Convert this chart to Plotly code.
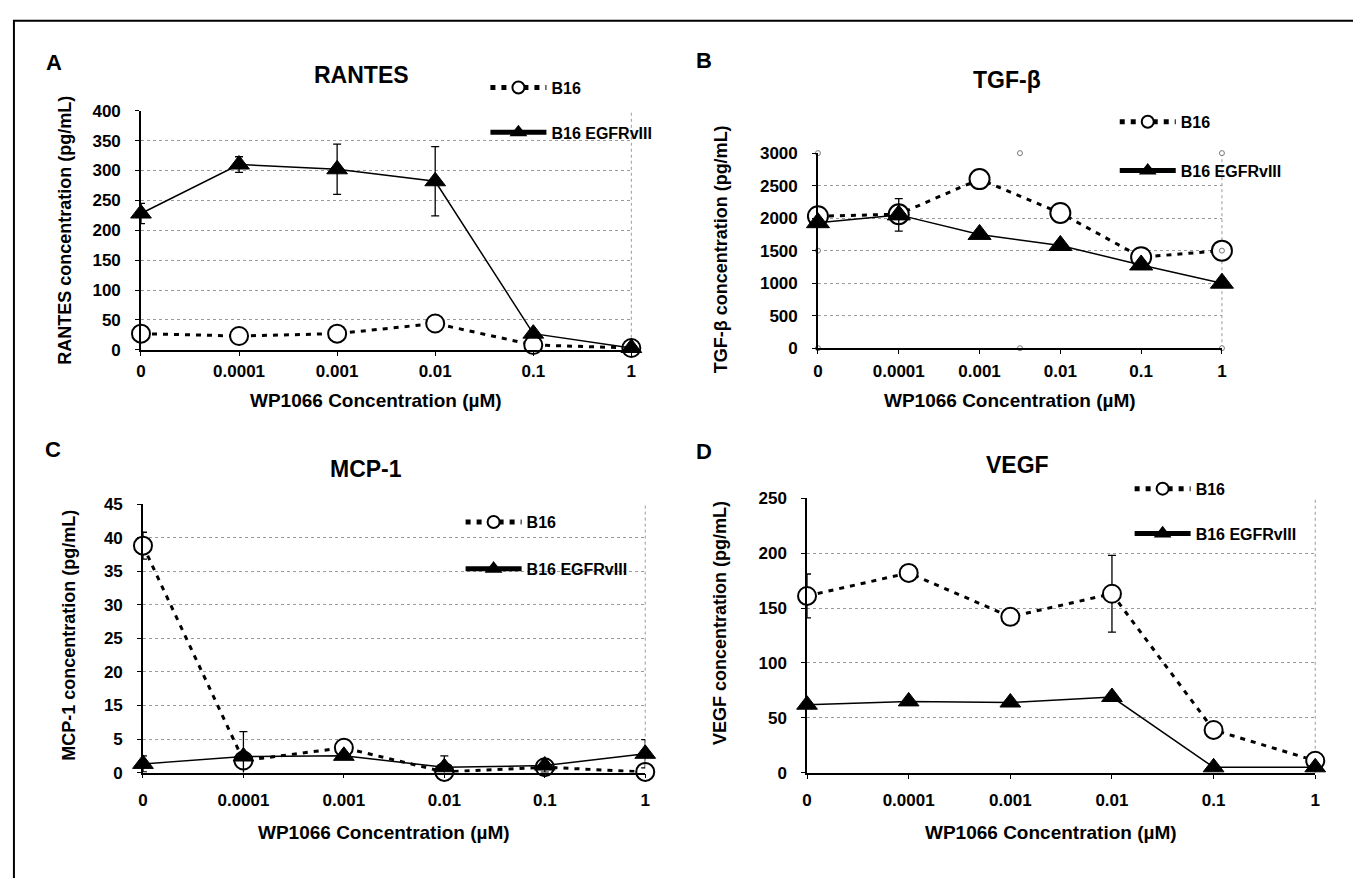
import plotly.graph_objects as go

W, H = 1353, 878

categories = ["0", "0.0001", "0.001", "0.01", "0.1", "1"]
series_names = ["B16", "B16 EGFRvIII"]

# Panel A - RANTES (pg/mL)
rantes_b16 = [27, 23, 27, 44, 8, 3]
rantes_b16_err = [0, 0, 0, 0, 0, 0]
rantes_egfr = [228, 310, 302, 282, 27, 3]
rantes_egfr_err = [17, 13, 42, 58, 0, 0]
rantes_ticks = [0, 50, 100, 150, 200, 250, 300, 350, 400]

# Panel B - TGF-beta (pg/mL)
tgf_b16 = [2030, 2060, 2600, 2080, 1400, 1500]
tgf_b16_err = [0, 0, 0, 0, 0, 0]
tgf_egfr = [1930, 2050, 1750, 1580, 1280, 1000]
tgf_egfr_err = [0, 250, 0, 0, 0, 0]
tgf_ticks = [0, 500, 1000, 1500, 2000, 2500, 3000]
# stray small markers visible in panel B of the source figure
tgf_stray_x = [0, 0, 0, 2.5, 2.5, 2.5, 5, 5, 5]
tgf_stray_y = [0, 1500, 3000, 0, 3000, 3300, 0, 1500, 3000]

# Panel C - MCP-1 (pg/mL), plotted on the axis grid as drawn in the source
mcp_b16 = [33.8, 1.8, 3.7, 0.1, 0.8, 0.1]
mcp_b16_err = [2.0, 0, 0, 0, 0, 0]
mcp_egfr = [1.3, 2.4, 2.5, 0.8, 1.05, 2.8]
mcp_egfr_err = [1.2, 3.7, 0, 1.7, 1.0, 2.1]
mcp_tickvals = [0, 5, 10, 15, 20, 25, 30, 35, 40]
mcp_ticktext = ["0", "5", "15", "20", "25", "30", "35", "40", "45"]

# Panel D - VEGF (pg/mL)
vegf_b16 = [161, 182, 142, 163, 39, 11]
vegf_b16_err = [20, 0, 0, 35, 0, 0]
vegf_egfr = [62, 65, 64, 69, 5, 5]
vegf_egfr_err = [0, 0, 0, 0, 0, 0]
vegf_ticks = [0, 50, 100, 150, 200, 250]

FONT = "Arial, Liberation Sans, Helvetica, sans-serif"

def px(x):
    return x / W

def py(y):
    return 1 - y / H

xpos = list(range(len(categories)))

panels = [
    dict(key="", letter="A", title="RANTES", ytitle="RANTES concentration (pg/mL)",
         b16=rantes_b16, b16e=rantes_b16_err, eg=rantes_egfr, ege=rantes_egfr_err,
         tickvals=rantes_ticks, ticktext=[str(t) for t in rantes_ticks], yr=[0, 400],
         box=(137, 631, 104, 348.3), letter_pos=(49, 55), title_pos=(359, 67),
         ytitle_pos=(61, 226), xtitle_y=400, tick_off=23,
         legend="legend", leg=(484, 63), leg_gap=43, msize=18),
    dict(key="2", letter="B", title="TGF-β", ytitle="TGF-β concentration (pg/mL)",
         b16=tgf_b16, b16e=tgf_b16_err, eg=tgf_egfr, ege=tgf_egfr_err,
         tickvals=tgf_ticks, ticktext=[str(t) for t in tgf_ticks], yr=[0, 3000],
         box=(819, 1226, 147.3, 346.7), letter_pos=(704, 53), title_pos=(1009, 73),
         ytitle_pos=(721, 246), xtitle_y=400, tick_off=25,
         legend="legend2", leg=(1118, 98), leg_gap=47, msize=20),
    dict(key="3", letter="C", title="MCP-1", ytitle="MCP-1 concentration (pg/mL)",
         b16=mcp_b16, b16e=mcp_b16_err, eg=mcp_egfr, ege=mcp_egfr_err,
         tickvals=mcp_tickvals, ticktext=mcp_ticktext, yr=[0, 40],
         box=(139, 645, 506, 780.5), letter_pos=(48, 450), title_pos=(364, 470),
         ytitle_pos=(65, 640), xtitle_y=842, tick_off=29,
         legend="legend3", leg=(459, 507), leg_gap=45, msize=18),
    dict(key="4", letter="D", title="VEGF", ytitle="VEGF concentration (pg/mL)",
         b16=vegf_b16, b16e=vegf_b16_err, eg=vegf_egfr, ege=vegf_egfr_err,
         tickvals=vegf_ticks, ticktext=[str(t) for t in vegf_ticks], yr=[0, 250],
         box=(808, 1320, 500, 780.7), letter_pos=(704, 452), title_pos=(1020, 466),
         ytitle_pos=(721, 628), xtitle_y=842, tick_off=29,
         legend="legend4", leg=(1133, 473), leg_gap=43, msize=18),
]

fig = go.Figure()
layout = dict(
    width=W, height=H, autosize=False,
    margin=dict(l=0, r=0, t=0, b=0),
    paper_bgcolor="white", plot_bgcolor="white",
    font=dict(family=FONT, color="black", size=16, weight="bold"),
    annotations=[], shapes=[],
)

for p in panels:
    k = p["key"]
    xa, ya = "x" + k, "y" + k
    x0, x1, y0, y1 = p["box"]
    fig.add_trace(go.Scatter(
        x=xpos, y=p["b16"], name=series_names[0], mode="lines+markers",
        xaxis=xa, yaxis=ya, legend=p["legend"], legendgroup="b16" + k,
        line=dict(color="black", width=3, dash="5px,6px"),
        marker=dict(symbol="circle", size=p["msize"], color="white",
                    line=dict(color="black", width=2)),
        error_y=dict(type="data", array=p["b16e"], visible=True,
                     color="black", thickness=1.3, width=4),
        cliponaxis=False,
    ))
    fig.add_trace(go.Scatter(
        x=xpos, y=p["eg"], name=series_names[1], mode="lines+markers",
        xaxis=xa, yaxis=ya, legend=p["legend"], legendgroup="eg" + k,
        line=dict(color="black", width=1.5),
        marker=dict(symbol="triangle-up", size=p["msize"], color="black",
                    line=dict(color="black", width=1)),
        error_y=dict(type="data", array=p["ege"], visible=True,
                     color="black", thickness=1.3, width=4),
        cliponaxis=False,
    ))
    if k == "2":
        fig.add_trace(go.Scatter(
            x=tgf_stray_x, y=tgf_stray_y, mode="markers", showlegend=False,
            xaxis=xa, yaxis=ya, hoverinfo="skip",
            marker=dict(symbol="circle", size=5, color="white",
                        line=dict(color="#777", width=1)),
            cliponaxis=False,
        ))

    xname = "xaxis" + k
    yname = "yaxis" + k
    layout[xname] = dict(
        domain=[px(x0), px(x1)], anchor=ya, range=[0, len(categories) - 1],
        tickmode="array", tickvals=xpos, ticktext=categories,
        showline=True, linecolor="black", linewidth=1.5,
        ticks="outside", ticklen=4, tickcolor="black",
        showgrid=False, zeroline=False,
        tickfont=dict(size=17, family=FONT, weight="bold"),
        ticklabelstandoff=p["tick_off"] - 22,
    )
    layout[yname] = dict(
        domain=[py(y1), py(y0)], anchor=xa, range=p["yr"],
        tickmode="array", tickvals=p["tickvals"], ticktext=p["ticktext"],
        showline=True, linecolor="black", linewidth=1.5,
        ticks="outside", ticklen=4, tickcolor="black",
        showgrid=True, gridcolor="#9a9a9a", griddash="dot", gridwidth=1,
        zeroline=False,
        tickfont=dict(size=17, family=FONT, weight="bold"),
        ticklabelstandoff=11,
    )
    # right dotted border of plot area
    layout["shapes"].append(dict(
        type="line", xref=xa + " domain", yref=ya + " domain",
        x0=1, x1=1, y0=0, y1=1,
        line=dict(color="#9a9a9a", width=1, dash="dot"), layer="below"))
    # legend
    lx, ly = p["leg"]
    layout[p["legend"]] = dict(
        x=px(lx), y=py(ly), xanchor="left", yanchor="top",
        bgcolor="rgba(0,0,0,0)", borderwidth=0,
        font=dict(size=16, family=FONT, weight="bold", color="black"),
        tracegroupgap=p["leg_gap"] - 22, traceorder="grouped",
        itemsizing="constant", itemwidth=56,
    )
    # text
    ann = layout["annotations"]
    ann.append(dict(text=p["letter"], x=px(p["letter_pos"][0]), y=py(p["letter_pos"][1]),
                    xref="paper", yref="paper", showarrow=False,
                    xanchor="center", yanchor="middle",
                    font=dict(size=22, family=FONT, weight="bold")))
    ann.append(dict(text=p["title"], x=px(p["title_pos"][0]), y=py(p["title_pos"][1]),
                    xref="paper", yref="paper", showarrow=False,
                    xanchor="center", yanchor="middle",
                    font=dict(size=23, family=FONT, weight="bold")))
    ann.append(dict(text=p["ytitle"], x=px(p["ytitle_pos"][0]), y=py(p["ytitle_pos"][1]),
                    xref="paper", yref="paper", showarrow=False, textangle=-90,
                    xanchor="center", yanchor="middle",
                    font=dict(size=18, family=FONT, weight="bold")))
    ann.append(dict(text="WP1066 Concentration (µM)", x=px((x0 + x1) / 2 - 10),
                    y=py(p["xtitle_y"]), xref="paper", yref="paper", showarrow=False,
                    xanchor="center", yanchor="middle",
                    font=dict(size=19, family=FONT, weight="bold")))

# outer frame
layout["shapes"].append(dict(
    type="rect", xref="paper", yref="paper",
    x0=px(9), x1=1.05, y0=-0.05, y1=py(12),
    line=dict(color="black", width=2), fillcolor="rgba(0,0,0,0)", layer="above"))

fig.update_layout(**layout)
fig.write_html(
    "out.html",
    config={"displayModeBar": False},
    post_script="document.body.style.margin='0';document.body.style.overflow='hidden';",
)
